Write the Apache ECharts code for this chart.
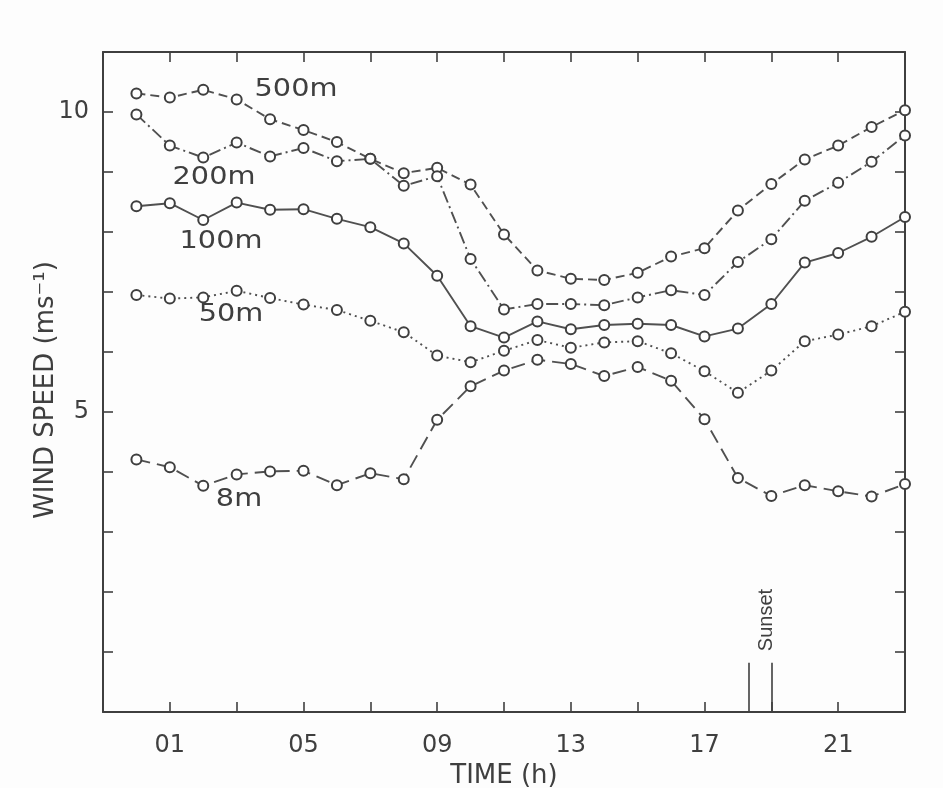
<!DOCTYPE html>
<html><head><meta charset="utf-8">
<script src="https://cdn.jsdelivr.net/npm/echarts@6/dist/echarts.min.js"></script>
<style>html,body{margin:0;padding:0;background:#fdfdfd}#c{width:943px;height:788px}</style>
</head><body><div id="c"></div>
<script>
// ---- data ----
const hours = [0,1,2,3,4,5,6,7,8,9,10,11,12,13,14,15,16,17,18,19,20,21,22,23];
const ws500 = [10.31,10.24,10.37,10.21,9.88,9.70,9.50,9.22,8.98,9.07,8.79,7.96,7.36,7.22,7.20,7.32,7.59,7.73,8.36,8.80,9.21,9.44,9.75,10.03];
const ws200 = [9.96,9.44,9.24,9.49,9.26,9.40,9.18,9.22,8.77,8.93,7.55,6.71,6.80,6.80,6.78,6.91,7.03,6.95,7.50,7.88,8.52,8.82,9.17,9.61];
const ws100 = [8.43,8.48,8.20,8.49,8.37,8.38,8.22,8.08,7.81,7.27,6.43,6.24,6.51,6.38,6.45,6.47,6.45,6.26,6.39,6.80,7.49,7.65,7.92,8.25];
const ws50  = [6.95,6.89,6.91,7.02,6.90,6.79,6.70,6.52,6.33,5.94,5.83,6.02,6.20,6.07,6.16,6.18,5.98,5.68,5.32,5.69,6.18,6.29,6.43,6.67];
const ws8   = [4.21,4.08,3.77,3.96,4.01,4.02,3.78,3.98,3.88,4.87,5.43,5.69,5.87,5.80,5.60,5.75,5.52,4.88,3.90,3.60,3.78,3.68,3.59,3.80];
const seriesNames = ['500m','200m','100m','50m','8m'];
const xTickLabels = {1:'01',5:'05',9:'09',13:'13',17:'17',21:'21'};
const yTickLabels = {5:'5',10:'10'};
const sunsetTimes = [18.33, 19.0];
const sunsetHeight = 0.82;
const sunsetText = 'Sunset';
const xTitle = 'TIME (h)';
const yTitle = 'WIND SPEED (ms\u207B\u00B9)';

// ---- styling ----
const ink = '#3f3f3f';
const font = 'DejaVu Sans';
const dashes = {'500m':[9,5], '200m':[12,4,2,4], '100m':'solid', '50m':[2,4], '8m':[14,7]};
const allSeries = [ws500, ws200, ws100, ws50, ws8];

const chart = echarts.init(document.getElementById('c'), null, {renderer:'canvas'});

const series = seriesNames.map((name, k) => ({
  name, type:'line',
  data: hours.map((h,i)=>[h, allSeries[k][i]]),
  symbol:'emptyCircle', symbolSize:10, showSymbol:true, showAllSymbol:true,
  lineStyle:{color:'#505050', width:1.9, type:dashes[name]},
  itemStyle:{color:ink, borderColor:ink, borderWidth:2},
  clip:false, animation:false, z:3
}));
series.push({
  name:'sunset', type:'line', data:[], animation:false,
  markLine:{
    silent:true, symbol:['none','none'], animation:false,
    label:{show:false},
    lineStyle:{color:ink, width:1.6, type:'solid'},
    data: sunsetTimes.map(t => [{coord:[t,0]},{coord:[t,sunsetHeight]}])
  }
});

const commonX = {
  type:'value', min:-1, max:23, interval:2,
  axisLine:{show:true, onZero:false, lineStyle:{color:ink, width:2}},
  axisTick:{show:true, inside:true, length:10, lineStyle:{color:ink, width:1.6}},
  splitLine:{show:false}
};
const commonY = {
  type:'value', min:0, max:11, interval:1,
  axisLine:{show:true, onZero:false, lineStyle:{color:ink, width:2}},
  axisTick:{show:true, inside:true, length:10, lineStyle:{color:ink, width:1.6}},
  splitLine:{show:false}
};

const lbl = (text, x, y) => ({type:'text', x, y, scaleX:1.15,
  style:{text, fill:ink, fontFamily:font, fontSize:25, align:'center', verticalAlign:'middle'}});

chart.setOption({
  backgroundColor:'#fdfdfd',
  animation:false,
  grid:{left:103, right:38, top:52, bottom:76, outerBoundsMode:'none', containLabel:false},
  xAxis:[
    Object.assign({}, commonX, {position:'bottom',
      axisLabel:{show:true, margin:22, color:ink, fontFamily:font, fontSize:24,
        formatter:v => xTickLabels[v] || ''},
      name:xTitle, nameLocation:'middle', nameGap:49,
      nameTextStyle:{color:ink, fontFamily:font, fontSize:26}}),
    Object.assign({}, commonX, {position:'top', axisLabel:{show:false}})
  ],
  yAxis:[
    Object.assign({}, commonY, {position:'left',
      axisLabel:{show:true, margin:14, color:ink, fontFamily:font, fontSize:24,
        formatter:v => yTickLabels[v] || ''}}),
    Object.assign({}, commonY, {position:'right', axisLabel:{show:false}})
  ],
  series,
  graphic:[
    {type:'text', x:46, y:390, rotation:Math.PI/2,
      style:{text:yTitle, fill:ink, fontFamily:font, fontSize:26, align:'center', verticalAlign:'middle'}},
    lbl('500m', 296, 89),
    lbl('200m', 214, 177),
    lbl('100m', 221, 241),
    lbl('50m', 231, 314),
    lbl('8m', 239, 499),
    {type:'text', x:766, y:620, rotation:Math.PI/2,
      style:{text:sunsetText, fill:ink, fontFamily:'Liberation Sans', fontSize:20, align:'center', verticalAlign:'middle'}}
  ]
});
</script></body></html>
